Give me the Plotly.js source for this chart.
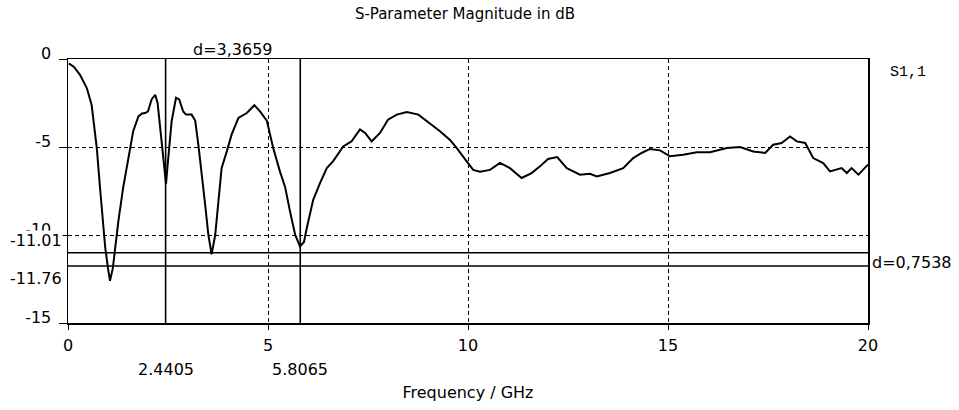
<!DOCTYPE html>
<html>
<head>
<meta charset="utf-8">
<script src="https://cdn.plot.ly/plotly-3.0.1.min.js"></script>
<style>html,body{margin:0;padding:0;background:#fff;}#chart{width:959px;height:410px;}</style>
</head>
<body>
<div id="chart"></div>
<script>
// S1,1 magnitude (dB) vs frequency (GHz)
const freq = [0.02,0.15,0.3,0.47,0.59,0.68,0.72,0.8,0.88,0.93,1.0,1.05,1.12,1.18,1.26,1.38,1.55,1.63,1.76,1.85,1.93,2.0,2.09,2.18,2.24,2.3,2.38,2.42,2.45,2.48,2.51,2.59,2.7,2.78,2.88,2.95,3.09,3.18,3.26,3.34,3.43,3.51,3.59,3.68,3.76,3.84,3.97,4.09,4.26,4.47,4.66,4.8,4.97,5.13,5.3,5.43,5.55,5.68,5.8,5.9,5.97,6.05,6.13,6.3,6.47,6.63,6.88,7.09,7.3,7.43,7.59,7.8,8.0,8.22,8.47,8.76,9.05,9.3,9.55,9.72,9.93,10.13,10.3,10.55,10.8,11.05,11.34,11.59,11.8,12.0,12.23,12.47,12.8,13.05,13.22,13.55,13.88,14.13,14.34,14.55,14.8,15.05,15.38,15.72,16.05,16.47,16.8,17.13,17.43,17.63,17.84,18.05,18.22,18.43,18.63,18.88,19.05,19.22,19.34,19.47,19.59,19.76,19.93,20.0];
const s11 = [-0.25,-0.45,-0.9,-1.65,-2.6,-4.1,-5.06,-7.3,-9.2,-10.7,-11.9,-12.6,-11.9,-10.7,-9.2,-7.3,-5.06,-4.1,-3.26,-3.1,-3.07,-2.98,-2.3,-2.03,-2.5,-3.9,-5.4,-6.5,-7.1,-6.3,-5.4,-3.55,-2.2,-2.3,-2.98,-3.16,-3.16,-3.5,-4.9,-6.4,-8.3,-10.0,-11.1,-10.0,-8.3,-6.2,-5.25,-4.3,-3.35,-3.07,-2.63,-2.98,-3.5,-5.06,-6.4,-7.3,-8.66,-10.0,-10.65,-10.4,-9.6,-8.85,-8.0,-7.05,-6.2,-5.8,-4.97,-4.68,-4.0,-4.2,-4.68,-4.2,-3.45,-3.16,-3.01,-3.16,-3.64,-4.1,-4.6,-5.06,-5.7,-6.3,-6.4,-6.3,-5.9,-6.2,-6.76,-6.48,-6.1,-5.68,-5.57,-6.2,-6.57,-6.52,-6.67,-6.48,-6.2,-5.63,-5.34,-5.11,-5.19,-5.53,-5.44,-5.3,-5.3,-5.06,-5.0,-5.25,-5.34,-4.87,-4.77,-4.4,-4.68,-4.77,-5.63,-5.91,-6.39,-6.29,-6.2,-6.48,-6.2,-6.57,-6.2,-6.0];

// Markers
const markerX = [2.4405, 5.8065];
const markerXText = ["2.4405", "5.8065"];
const markerY = [-11.01, -11.76];
const markerYText = ["-11.01", "-11.76"];
const deltaXText = "d=3,3659";
const deltaYText = "d=0,7538";
const traceName = "S1,1";

// Axis ticks
const xTicks = [0, 5, 10, 15, 20];
const yTicks = [0, -5, -10, -15];
const yTickText = ["0", "-5", "-10", "-15"];
const xRange = [0, 20];
const yRange = [-15, 0];

const FONT = "DejaVu Sans, Verdana, sans-serif";

const traces = [];
markerX.forEach(function (mx) {
  traces.push({x: [mx, mx], y: yRange, mode: 'lines', line: {color: '#000', width: 1.6}, hoverinfo: 'skip', showlegend: false});
});
markerY.forEach(function (my) {
  traces.push({x: xRange, y: [my, my], mode: 'lines', line: {color: '#000', width: 1.6}, hoverinfo: 'skip', showlegend: false});
});
traces.push({x: freq, y: s11, mode: 'lines', name: traceName, line: {color: '#000', width: 2}, showlegend: false});

const annotations = [];
markerX.forEach(function (mx, i) {
  annotations.push({x: mx, xref: 'x', y: -0.177, yref: 'paper', text: markerXText[i], showarrow: false, xanchor: 'center', yanchor: 'middle', font: {family: FONT, size: 16, color: '#000'}});
});
annotations.push({x: -0.006, xref: 'paper', y: markerY[0], yref: 'y', yshift: 12, text: markerYText[0], showarrow: false, xanchor: 'right', yanchor: 'middle', bgcolor: '#fff', borderpad: 0, font: {family: FONT, size: 16, color: '#000'}});
annotations.push({x: -0.006, xref: 'paper', y: markerY[1], yref: 'y', yshift: -13, text: markerYText[1], showarrow: false, xanchor: 'right', yanchor: 'middle', bgcolor: '#fff', borderpad: 0, font: {family: FONT, size: 16, color: '#000'}});
annotations.push({x: (markerX[0] + markerX[1]) / 2, xref: 'x', y: 1, yref: 'paper', yshift: 10, text: deltaXText, showarrow: false, xanchor: 'center', yanchor: 'middle', font: {family: FONT, size: 16, color: '#000'}});
annotations.push({x: 1.002, xref: 'paper', y: (markerY[0] + markerY[1]) / 2, yref: 'y', yshift: -3, text: deltaYText, showarrow: false, xanchor: 'left', yanchor: 'middle', font: {family: FONT, size: 16, color: '#000'}});
annotations.push({x: 1.025, xref: 'paper', y: 0.948, yref: 'paper', text: traceName, showarrow: false, xanchor: 'left', yanchor: 'middle', font: {family: 'Liberation Mono, Courier New, monospace', size: 15, color: '#000'}});

const layout = {
  width: 959, height: 410,
  margin: {l: 68, r: 91, t: 59, b: 87, pad: 0},
  paper_bgcolor: '#fff', plot_bgcolor: '#fff',
  title: {text: 'S-Parameter Magnitude in dB', x: 465 / 959, xanchor: 'center', y: 1 - 14 / 410, yanchor: 'middle', font: {family: FONT, size: 15, color: '#000'}},
  xaxis: {
    range: xRange, tickvals: xTicks, ticktext: xTicks.map(String),
    showgrid: true, gridcolor: '#000', gridwidth: 1, griddash: '4px,3px',
    zeroline: false, showline: true, mirror: true, linecolor: '#000', linewidth: 1.5,
    ticks: 'outside', ticklen: 5, tickcolor: '#000', tickwidth: 1,
    ticklabelstandoff: 2,
    tickfont: {family: FONT, size: 16, color: '#000'},
    title: {text: 'Frequency / GHz', standoff: 33, font: {family: FONT, size: 16, color: '#000'}},
    fixedrange: true, automargin: false
  },
  yaxis: {
    range: yRange, tickvals: yTicks, ticktext: yTickText,
    showgrid: true, gridcolor: '#000', gridwidth: 1, griddash: '4px,3px',
    zeroline: false, showline: true, mirror: true, linecolor: '#000', linewidth: 1.5,
    ticks: 'outside', ticklen: 8, tickcolor: '#000', tickwidth: 1,
    ticklabelshift: -6, ticklabelstandoff: 4,
    tickfont: {family: FONT, size: 16, color: '#000'},
    fixedrange: true, automargin: false
  },
  annotations: annotations,
  showlegend: false
};

Plotly.newPlot('chart', traces, layout, {displayModeBar: false, staticPlot: true});
</script>
</body>
</html>
